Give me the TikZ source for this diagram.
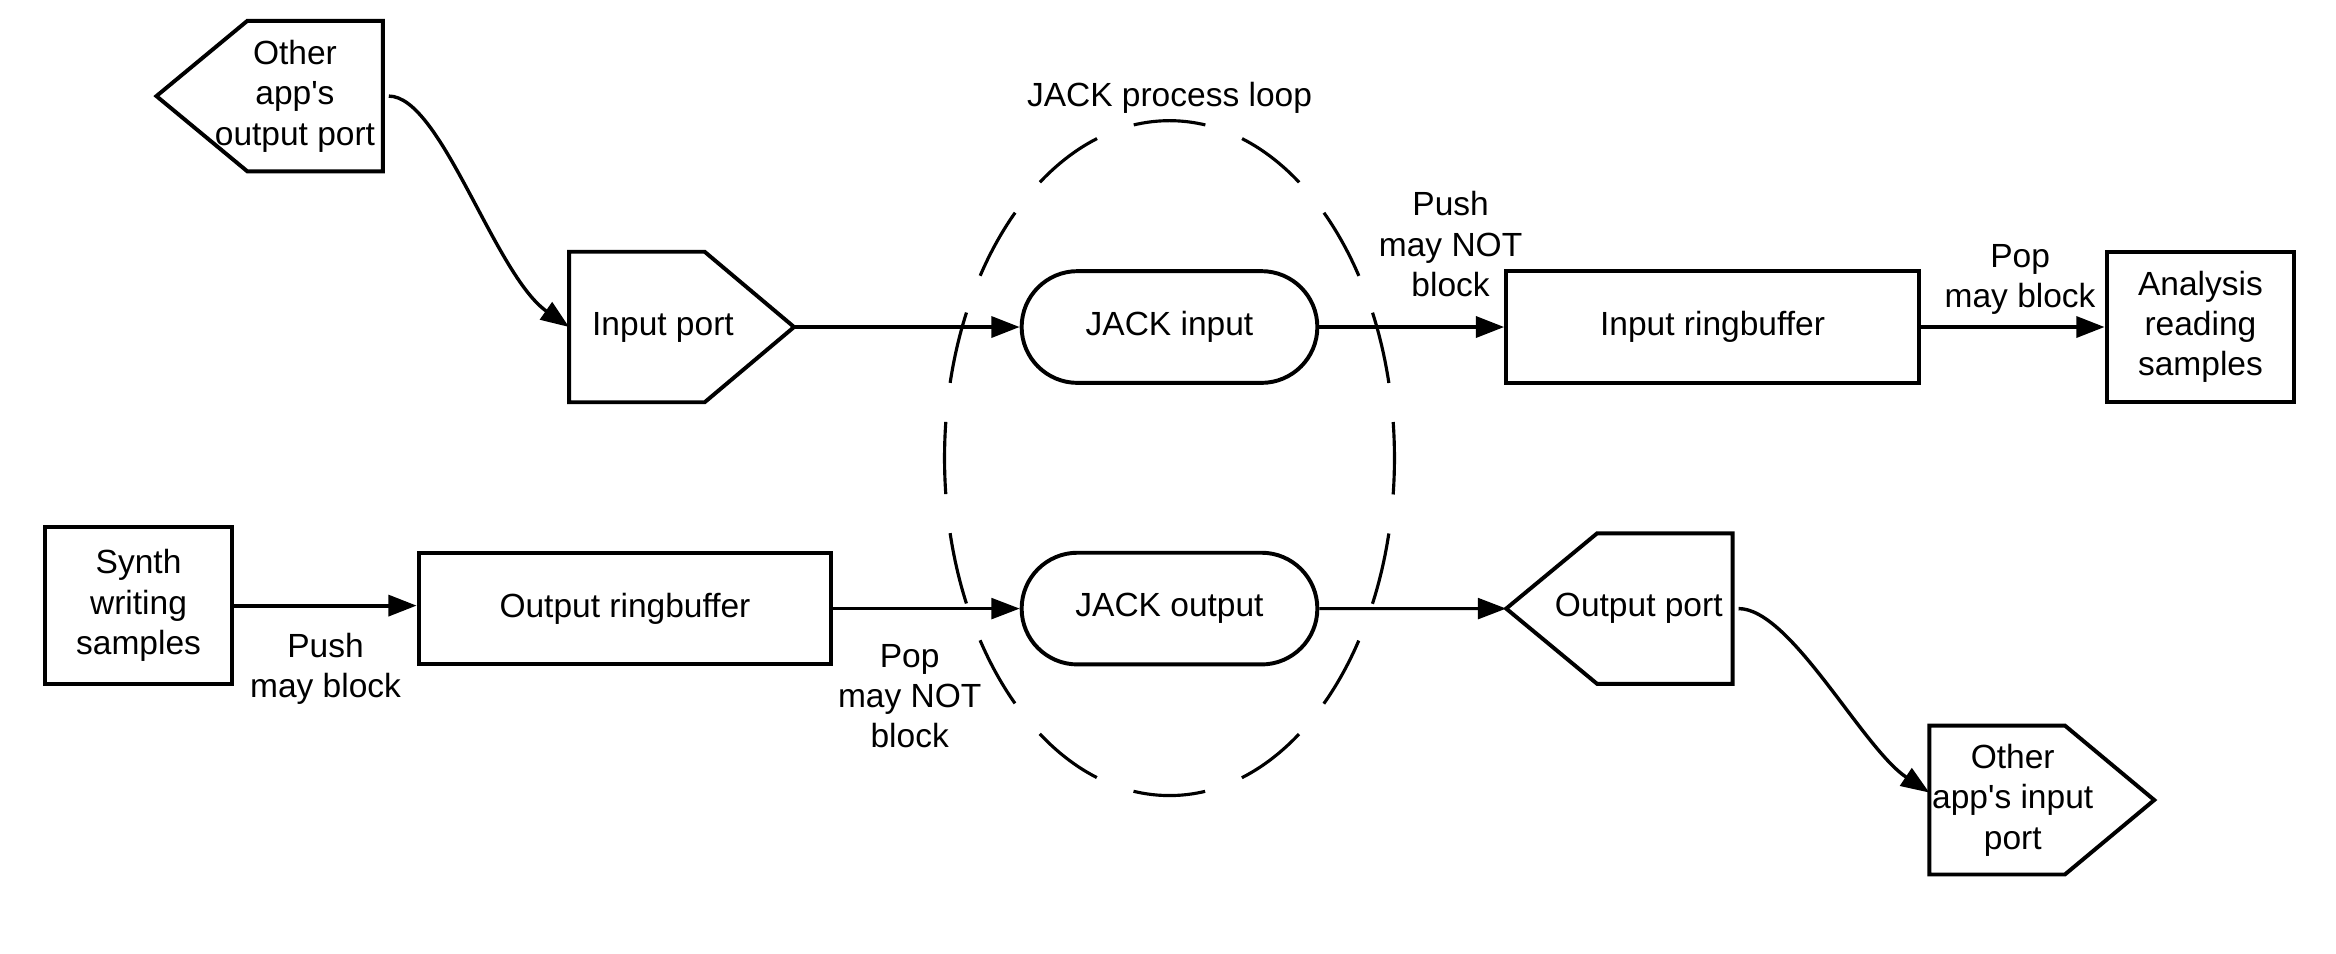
\documentclass[tikz,border=0pt]{standalone}
\usepackage{fontspec}
\setmainfont{Liberation Sans}
\usetikzlibrary{arrows.meta, shapes.misc}
\usetikzlibrary{positioning}
\newcommand{\diagfont}{\fontsize{12.8pt}{15.4pt}\selectfont}

\begin{document}
\begin{tikzpicture}[x=0.2mm, y=-0.2mm,
		box/.style={draw, line width=1.5pt, inner sep=1pt, align=center, font=\diagfont},
		block/.style={box, rectangle},
		pill/.style={box, rounded rectangle, minimum width=4.04cm, minimum height=1.5cm},
		port/.style={box, draw=none, rectangle, outer sep=0pt, minimum height=2.02cm},
		portline/.style={line width=1.5pt, line join=miter},
		flow/.style={-{Triangle[length=0.38cm, width=0.28cm]}, line width=1.5pt},
		thinflow/.style={flow, line width=1.1pt},
		curveflow/.style={flow, line width=1.3pt},
		note/.style={font=\diagfont, align=center, inner sep=0pt},
		loopline/.style={line width=1.2pt, dash pattern=on 0.97cm off 0.5273cm, dash phase=0.485cm}]
	\useasboundingbox (0,0) rectangle (1568,640);

	% process loop
	\draw[loopline] (785,307.5) ellipse [x radius=3.02cm, y radius=4.53cm];
	\node[note] (looplabel) at (785,66) {JACK process loop};

	% input side
	\node[port, anchor=east, minimum width=2.36cm] (otherout) at (257,64.5) {Other\\app{\textquotesingle}s\\output port};
	\draw[portline] (otherout.north east) -- ++(-91,0) -- ++(-61,50.5) coordinate (otherouttip) -- ++(61,50.5) -- ++(91,0) -- cycle;
	\node[port, anchor=west, minimum width=2.52cm] (inport) at (382,219.5) {Input port};
	\draw[portline] (inport.north west) -- ++(91,0) -- ++(60,50.5) coordinate (inporttip) -- ++(-60,50.5) -- ++(-91,0) -- cycle;
	\node[pill] (jackin) at (785,219.5) {JACK input};
	\node[block, minimum width=5.54cm, minimum height=1.5cm] (inring) at (1149.5,219.5) {Input ringbuffer};
	\node[block, minimum width=2.52cm, minimum height=2.02cm] (analysis) at (1477,219.5) {Analysis\\reading\\samples};

	% output side
	\node[block, minimum width=2.52cm, minimum height=2.1cm] (synth) at (93,406.5) {Synth\\writing\\samples};
	\node[block, minimum width=5.54cm, minimum height=1.5cm] (outring) at (419.5,408.5) {Output ringbuffer};
	\node[pill] (jackout) at (785,408.5) {JACK output};
	\node[port, anchor=east, minimum width=2.52cm] (outport) at (1163,408.5) {Output port};
	\draw[portline] (outport.north east) -- ++(-91,0) -- ++(-61,50.5) coordinate (outporttip) -- ++(61,50.5) -- ++(91,0) -- cycle;
	\node[port, anchor=west, minimum width=2.24cm, minimum height=2cm] (otherin) at (1295,537) {Other\\app{\textquotesingle}s input\\port};
	\draw[portline] (otherin.north west) -- ++(91,0) -- ++(60,50) coordinate (otherintip) -- ++(-60,50) -- ++(-91,0) -- cycle;

	\draw[curveflow] ([xshift=0.08cm]otherout.east) .. controls +(35,0) and +(-50,-35) .. (inport.west);
	\draw[flow] (inporttip) -- (jackin.west);
	\draw[flow] (jackin.east) -- node[note, pos=0.71, above=0.38cm] (pushin) {Push\\may NOT\\block} (inring.west);
	\draw[flow] (inring.east) -- node[note, pos=0.54, above=0.14cm] (popin) {Pop\\may block} (analysis.west);

	\draw[flow] (synth.east) -- node[note, below=0.34cm] (pushout) {Push\\may block} (synth.east -| outring.west);
	\draw[thinflow] (outring.east) -- node[note, pos=0.41, below=0.46cm] (popout) {Pop\\may NOT\\block} (jackout.west);
	\draw[thinflow] (jackout.east) -- (outporttip);
	\draw[curveflow] ([xshift=0.08cm]outport.east) .. controls +(35,0) and +(-45,-30) .. ([yshift=0.1cm]otherin.west);
\end{tikzpicture}
\end{document}
